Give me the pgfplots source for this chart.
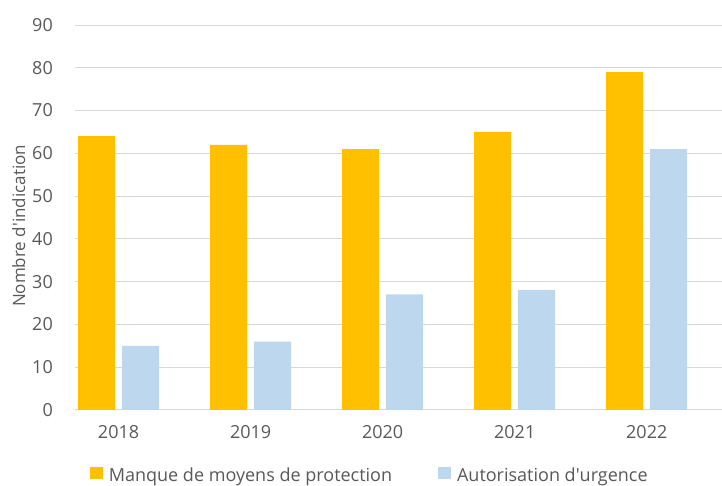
\documentclass[border=0pt]{standalone}
\usepackage{pgfplots}
\pgfplotsset{compat=1.18}
\usepackage{fontspec}
\setmainfont{Open Sans}
\definecolor{cOrange}{HTML}{FFC000}
\definecolor{cBlue}{HTML}{BDD7EE}
\definecolor{cGrid}{HTML}{D9D9D9}
\definecolor{cText}{HTML}{595959}
\begin{document}
\begin{tikzpicture}
\path[use as bounding box] (0,0) rectangle (722pt,486pt);
\begin{axis}[
  at={(75pt,76pt)}, anchor=south west,
  scale only axis, width=647pt, height=385pt,
  xmin=-0.33, xmax=4.57, ymin=0, ymax=90,
  ytick={0,10,...,90},
  xtick={0,1,2,3,4},
  xticklabels={2018,2019,2020,2021,2022},
  ymajorgrids, grid style={cGrid, line width=1pt},
  axis line style={draw=none},
  major tick length=0pt,
  /pgf/number format/assume math mode=true,
  tick label style={font=\fontsize{18}{21}\selectfont, text=cText, inner sep=0pt},
  yticklabel style={anchor=east, xshift=-22pt},
  xticklabel style={anchor=north, yshift=-15pt},
  ylabel={Nombre d\textquotesingle indication},
  ylabel style={at={(axis description cs:-0.087,0.478)}, anchor=center, font=\fontsize{17}{20}\selectfont, text=cText},
  legend columns=2,
  legend style={draw=none, at={(axis description cs:0.454,-0.148)}, anchor=north, font=\fontsize{18}{21}\selectfont, text=cText, inner sep=0pt,
    nodes={inner sep=0pt},
    /tikz/every even column/.append style={column sep=46pt}},
  legend image code/.code={\fill[#1] (0pt,-4pt) rectangle (13pt,8pt); \path (19pt,0pt);},
]
\addplot[ybar, bar width=37pt, bar shift=-22pt, fill=cOrange, draw=none] coordinates {(0,64) (1,62) (2,61) (3,65) (4,79)};
\addplot[ybar, bar width=37pt, bar shift=22pt, fill=cBlue, draw=none] coordinates {(0,15) (1,16) (2,27) (3,28) (4,61)};
\legend{Manque de moyens de protection, Autorisation d\textquotesingle urgence}
\end{axis}
\end{tikzpicture}
\end{document}
